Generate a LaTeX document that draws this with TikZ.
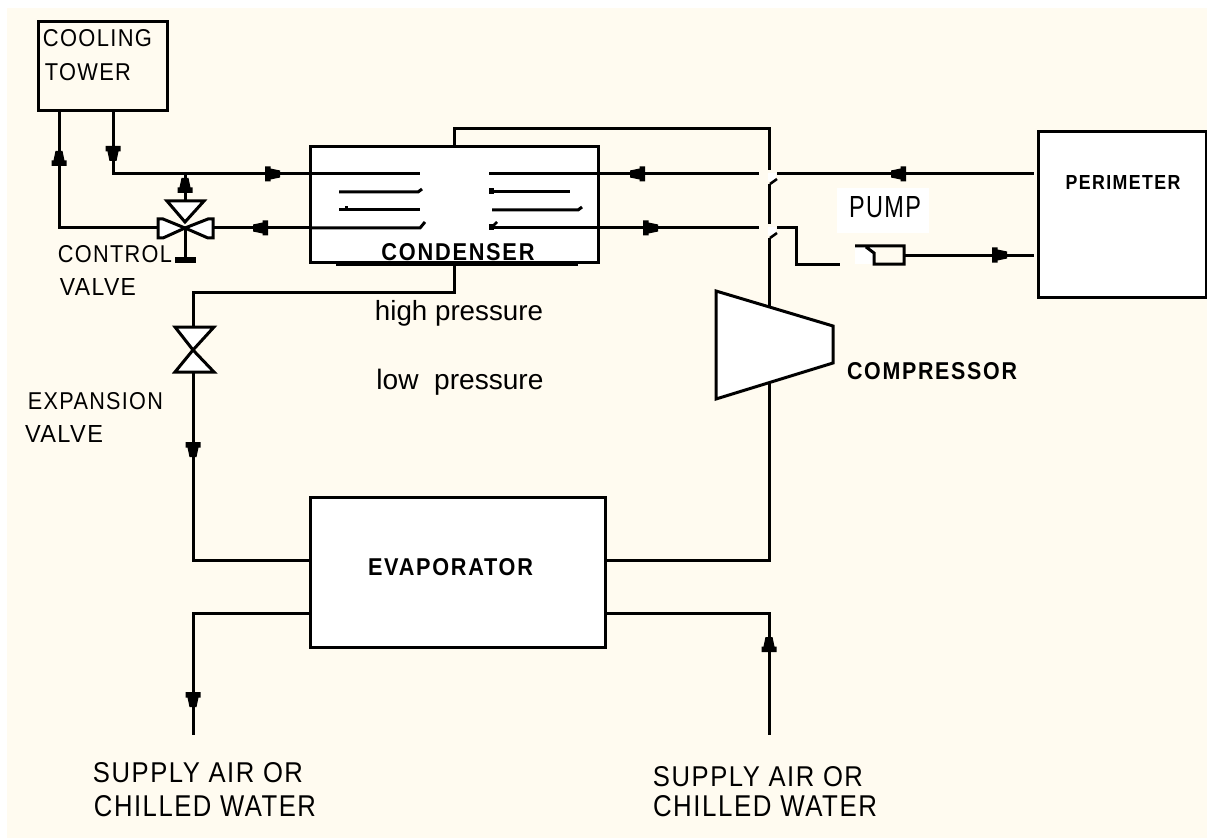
\documentclass[tikz,border=0pt]{standalone}
\usepackage{fontspec}
\usepackage{graphicx}
\setmainfont{Liberation Sans}
\newlength\pxu \setlength\pxu{0.75pt}
% text stretched to width and cap height measured in pixels
\newcommand\fitlabel[3]{\resizebox{#1\pxu}{#2\pxu}{\addfontfeature{LetterSpace=6}#3}}
\newcommand\fitbold[3]{\resizebox{#1\pxu}{#2\pxu}{\bfseries\addfontfeature{LetterSpace=8}#3}}
\newcommand\fitplain[2]{\resizebox{#1\pxu}{!}{#2}}
\definecolor{paper}{HTML}{FFFBF0}
\tikzset{
  x=0.75pt,y=-0.75pt,
  pipe/.style={line width=2.25pt,line cap=butt,line join=miter},
  thin pipe/.style={line width=1.9pt},
  boxed/.style={draw,line width=2.25pt,inner sep=0pt,outer sep=0pt,anchor=north west},
  whitebox/.style={boxed,fill=white},
  label/.style={inner sep=0pt,outer sep=0pt,text=black},
  arrR/.pic={\fill[black] (-7,-7.5)--(-7,7.5)--(-1.5,7.5)--(-1.5,5.5)--(8,3.5)--(8,-3.5)--(-1.5,-5.5)--(-1.5,-7.5)--cycle;},
  arrL/.pic={\fill[black] (7,-7.5)--(7,7.5)--(1.5,7.5)--(1.5,5.5)--(-8,3.5)--(-8,-3.5)--(1.5,-5.5)--(1.5,-7.5)--cycle;},
  arrD/.pic={\fill[black] (-7.5,-7)--(7.5,-7)--(7.5,-1.5)--(5.5,-1.5)--(3.5,8)--(-3.5,8)--(-5.5,-1.5)--(-7.5,-1.5)--cycle;},
  arrU/.pic={\fill[black] (-7.5,7)--(7.5,7)--(7.5,1.5)--(5.5,1.5)--(3.5,-8)--(-3.5,-8)--(-5.5,1.5)--(-7.5,1.5)--cycle;},
}
\begin{document}
\begin{tikzpicture}
\useasboundingbox (0,0) rectangle (1207,838);
\fill[white] (0,0) rectangle (1207,838);
\fill[paper] (7,8) rectangle (1207,838);

% boxes
\node[boxed,minimum width=129\pxu,minimum height=89\pxu] (tower) at (38,21.5) {};
\node[whitebox,minimum width=288\pxu,minimum height=115\pxu] (cond) at (310,147) {};
\node[whitebox,minimum width=295\pxu,minimum height=150\pxu] (evap) at (310,497) {};
\node[whitebox,minimum width=168\pxu,minimum height=165\pxu] (perim) at (1038,132) {};

% named junctions
\coordinate (towerL) at (59,111);
\coordinate (towerR) at (113,111);
\coordinate (cornerTR) at (113,174);
\coordinate (condTL) at (310,174);
\coordinate (condTR) at (598,174);
\coordinate (condBL) at (310,228);
\coordinate (condBR) at (598,228);
\coordinate (cornerBL) at (59,228);
\coordinate (vC) at (185,228);
\coordinate (vT) at (185,174);
\coordinate (vBar) at (185,259);
\coordinate (vL) at (158,228);
\coordinate (vR) at (213,228);
\coordinate (condTop) at (454,147);
\coordinate (topA) at (454,129);
\coordinate (topB) at (769,129);
\coordinate (hop1a) at (769,170);
\coordinate (hop1b) at (769,184);
\coordinate (hop2a) at (769,224);
\coordinate (hop2b) at (769,238);
\coordinate (compT) at (769,308);
\coordinate (compB) at (769,382);
\coordinate (evapR1) at (605,560);
\coordinate (evapC1) at (769,560);
\coordinate (evapR2) at (605,613);
\coordinate (evapC2) at (769,613);
\coordinate (endR) at (769,735);
\coordinate (evapL1) at (310,560);
\coordinate (evapL2) at (310,613);
\coordinate (evapC3) at (193,560);
\coordinate (evapC4) at (193,613);
\coordinate (endL) at (193,735);
\coordinate (condBot) at (454,262);
\coordinate (drop) at (454,292);
\coordinate (dropL) at (193,292);
\coordinate (xT) at (193,327);
\coordinate (xB) at (193,372);
\coordinate (x1a) at (759,174);
\coordinate (x1b) at (777,174);
\coordinate (x2a) at (759,228);
\coordinate (x2b) at (777,228);
\coordinate (perimT) at (1034,174);
\coordinate (perimB) at (1034,255);
\coordinate (pumpOut) at (905,255);
\coordinate (pumpIn) at (840,264);
\coordinate (bendA) at (796,228);
\coordinate (bendB) at (796,264);

% pipes
\draw[pipe] (towerL) -- (cornerBL) -- (vL);
\draw[pipe] (towerR) -- (cornerTR) -- (condTL);
\draw[pipe] (vT) -- (185,201);
\draw[pipe] (vR) -- (condBL);
\draw[pipe] (condTop) -- (topA) -- (topB) -- (hop1a);
\draw[pipe] (hop1b) -- (hop2a);
\draw[pipe] (hop2b) -- (compT);
\draw[pipe] (compB) -- (evapC1) -- (evapR1);
\draw[pipe] (evapR2) -- (evapC2) -- (endR);
\draw[pipe] (evapL1) -- (evapC3) -- (xB);
\draw[pipe] (evapL2) -- (evapC4) -- (endL);
\draw[pipe] (condBot) -- (drop) -- (dropL) -- (xT);
\draw[pipe] (condTR) -- (x1a);
\draw[pipe] (x1b) -- (perimT);
\draw[pipe] (condBR) -- (x2a);
\draw[pipe] (x2b) -- (bendA) -- (bendB) -- (pumpIn);
\draw[pipe] (pumpOut) -- (perimB);
% line hops
\fill[white] (768,173) rectangle (776,181);
\fill[white] (768,227) rectangle (776,235);
\draw[thin pipe] (770,184) -- (777,179);
\draw[thin pipe] (770,238) -- (777,233);

% condenser tubes
\draw[pipe] (310,174) -- (420,174);
\draw[pipe] (489,174) -- (598,174);
\draw[pipe] (339,192) -- (418,192) -- (422,189);
\draw[pipe] (489,192) -- (570,192);
\fill[black] (489,188) rectangle (494,194);
\draw[pipe] (339,210) -- (420,210);
\fill[black] (345,206) rectangle (348,209);
\draw[pipe] (492,210) -- (578,210) -- (582,207);
\draw[pipe] (310,228) -- (420,228) -- (425,222);
\draw[pipe] (489,228) -- (598,228);
\fill[black] (489,224) rectangle (494,230);
\draw[thin pipe] (493,226) -- (497,222);
\fill[black] (336,262) rectangle (578,266);

% control valve
\draw[pipe,fill=white] (167,201) -- (204,201) -- (185,222) -- cycle;
\draw[pipe,fill=white] (158,219) -- (163,219) -- (185,228) -- (163,238) -- (158,238) -- cycle;
\draw[pipe,fill=white] (213,219) -- (208,219) -- (185,228) -- (208,238) -- (213,238) -- cycle;
\draw[pipe] (vC) -- (vBar);
\fill[black] (175,257) rectangle (196,263);

% expansion valve
\draw[pipe,fill=white] (175,327) -- (214,327) -- (193,350) -- cycle;
\draw[pipe,fill=white] (175,372) -- (214,372) -- (193,350) -- cycle;

% compressor
\draw[pipe,fill=white] (716,291) -- (833,326) -- (833,363) -- (716,399) -- cycle;

% pump
\fill[white] (855,247) rectangle (874,264);
\draw[pipe] (855,246) -- (904,246) -- (904,264) -- (874,264) -- (874,253) -- (866,247);

% arrowheads
\pic at (59,159) {arrU};
\pic at (113,153) {arrD};
\pic at (272,174) {arrR};
\pic at (185,186) {arrU};
\pic at (261,228) {arrL};
\pic at (638,174) {arrL};
\pic at (650,228) {arrR};
\pic at (899,174) {arrL};
\pic at (999,255) {arrR};
\pic at (193,449) {arrD};
\pic at (193,699) {arrD};
\pic at (769,645) {arrU};

% labels
\node[label] (tCool) at (97.5,38) {\fitlabel{109}{17}{COOLING}};
\node[label] (tTower) at (88,72) {\fitlabel{86}{17}{TOWER}};
\node[label] (tCtrl) at (115,254) {\fitlabel{114}{17}{CONTROL}};
\node[label] (tVal1) at (98,287) {\fitlabel{76}{17}{VALVE}};
\node[label] (tCond) at (458,252) {\fitbold{153}{17}{CONDENSER}};
\node[label] (tHigh) at (459,313) {\fitplain{168}{high pressure}};
\node[label] (tLow) at (460,382) {\fitplain{167}{low\ \ pressure}};
\node[label] (tExp) at (95.5,401) {\fitlabel{135}{17}{EXPANSION}};
\node[label] (tVal2) at (64,434) {\fitlabel{78}{17}{VALVE}};
\node[label] (tComp) at (932,371) {\fitbold{170}{17}{COMPRESSOR}};
\node[label] (tEvap) at (450.5,567) {\fitbold{165}{17}{EVAPORATOR}};
\node[label] (tPer) at (1123,183) {\fitbold{115}{14}{PERIMETER}};
\node[fill=white,minimum width=92\pxu,minimum height=45\pxu,inner sep=0pt] (pumpBg) at (883,210.5) {};
\node[label] (tPump) at (885,207) {\fitlabel{72}{21}{PUMP}};
\node[label] (tS1) at (198,773) {\fitlabel{210}{20}{SUPPLY AIR OR}};
\node[label] (tC1) at (205,806) {\fitlabel{222}{21}{CHILLED WATER}};
\node[label] (tS2) at (758,777) {\fitlabel{210}{20}{SUPPLY AIR OR}};
\node[label] (tC2) at (765,806) {\fitlabel{224}{21}{CHILLED WATER}};
\end{tikzpicture}
\end{document}
